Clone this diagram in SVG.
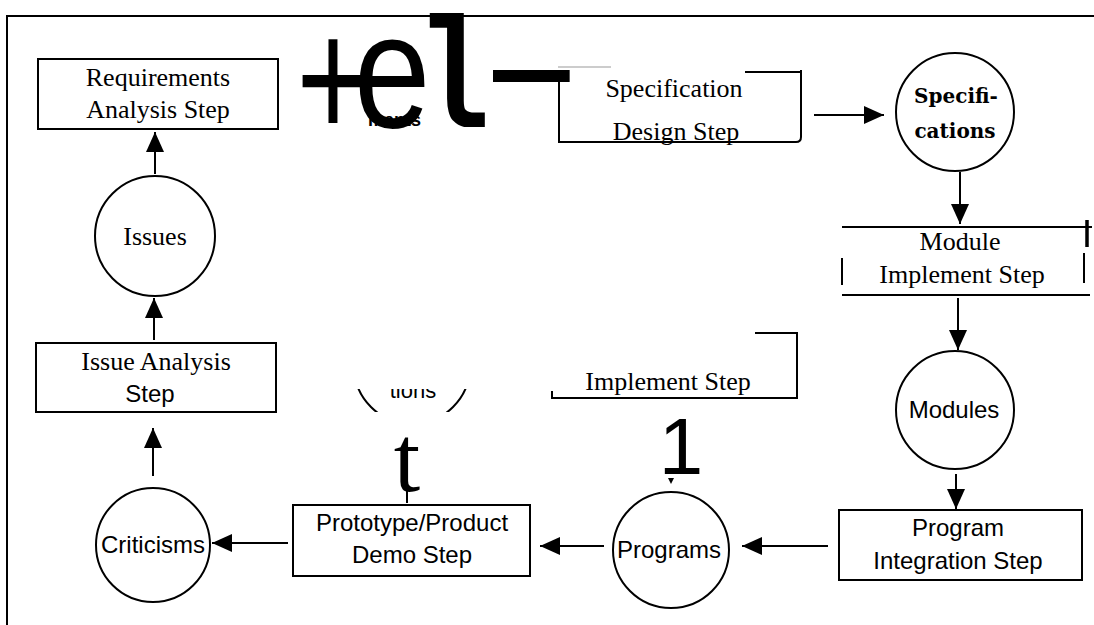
<svg xmlns="http://www.w3.org/2000/svg" width="1094" height="625" viewBox="0 0 1094 625">
<style>
.bx{fill:none;stroke:#000;stroke-width:2}
.ln{fill:none;stroke:#000;stroke-width:2}
.ci{fill:none;stroke:#000;stroke-width:2}
.se{font-family:"Liberation Serif","Times New Roman",serif;font-size:26px;fill:#000;text-anchor:middle}
.sa{font-family:"Liberation Sans",Arial,sans-serif;font-size:24px;fill:#000;text-anchor:middle}
.bd{font-family:"DejaVu Serif",serif;font-size:20px;font-weight:bold;fill:#000;text-anchor:middle}
.cn{fill:none;stroke:#000;stroke-width:2;marker-end:url(#ah)}
</style>
<defs>
<marker id="ah" viewBox="0 0 20 18" refX="20" refY="9" markerWidth="20" markerHeight="18" markerUnits="userSpaceOnUse" orient="auto"><path d="M0,0 L20,9 L0,18 z" fill="#000"/></marker>
<clipPath id="cpT"><rect x="340" y="389" width="140" height="23"/></clipPath>
<clipPath id="cpM"><rect x="340" y="112" width="120" height="20"/></clipPath>
</defs>
<rect width="1094" height="625" fill="#fff"/>
<path class="ln" d="M7,625 V16 H1094" stroke-width="2.5"/>

<g id="req"><rect class="bx" x="38" y="59" width="240" height="70"/><text class="se" x="158" y="86">Requirements</text><text class="se" x="158" y="118">Analysis Step</text></g>
<g id="issues"><circle class="ci" cx="155" cy="236" r="60"/><text class="se" x="155" y="245">Issues</text></g>
<g id="issueAnalysis"><rect class="bx" x="36" y="343" width="240" height="69"/><text class="se" x="156" y="370">Issue Analysis</text><text class="sa" x="150" y="402">Step</text></g>
<g id="criticisms"><circle class="ci" cx="153" cy="545" r="57"/><text class="sa" x="153" y="553">Criticisms</text></g>
<g id="demo"><rect class="bx" x="293" y="505" width="237" height="71"/><text class="sa" x="412" y="531">Prototype/Product</text><text class="sa" x="412" y="563">Demo Step</text></g>
<g id="programs"><circle class="ci" cx="671" cy="550" r="58"/><text class="sa" x="669" y="558">Programs</text></g>
<g id="integration"><rect class="bx" x="839" y="510" width="243" height="70"/><text class="sa" x="958" y="536">Program</text><text class="sa" x="958" y="569">Integration Step</text></g>
<g id="modules"><circle class="ci" cx="955" cy="410" r="59"/><text class="sa" x="954" y="418">Modules</text></g>
<g id="moduleImpl"><path class="ln" d="M842,227 H1092 M842,295 H1090 M842,258 V285 M1084,253 V283"/><path d="M1087,220 V247" stroke="#000" stroke-width="3.5"/><text class="se" x="960" y="250">Module</text><text class="se" x="962" y="283">Implement Step</text></g>
<g id="specs"><circle class="ci" cx="955" cy="112" r="59"/><text class="bd" x="956" y="103">Specifi-</text><text class="bd" x="955" y="138">cations</text></g>
<g id="specDesign"><path d="M558,67 H611" stroke="#999" stroke-width="1"/><path class="ln" d="M559,72 V142 H796 Q801,142 801,137 V70 M745,72 H800" stroke-width="2.5"/><text class="se" x="674" y="97">Specification</text><text class="se" x="676" y="140">Design Step</text></g>
<g id="implStep"><path class="ln" d="M755,333 H797 V398 H552 M552,391 V399"/><text class="se" x="668" y="390">Implement Step</text></g>
<g id="tions" clip-path="url(#cpT)"><circle class="ci" cx="412" cy="366" r="58"/><text font-family="Liberation Sans,Arial,sans-serif" font-size="22" text-anchor="middle" x="413" y="398">tions</text></g>

<g id="ocr" font-family="Liberation Sans,Arial,sans-serif" fill="#000">
<text clip-path="url(#cpM)" x="368" y="126" font-size="18" font-weight="bold">ments</text>
<g transform="translate(333,138) scale(1,1.36)"><text x="0" y="0" font-size="125" text-anchor="middle">+</text></g>
<g transform="translate(392,127) scale(1,1.18)"><text x="0" y="0" font-size="138" text-anchor="middle">e</text></g>
<g transform="translate(453,127) scale(1,1.3)"><text x="0" y="0" font-family="Liberation Mono,Courier New,monospace" font-weight="bold" font-size="122" text-anchor="middle">l</text></g>
<g transform="translate(493,122) scale(1,1.3)"><text x="0" y="0" font-size="138">–</text></g>
<text x="407" y="491" font-family="Liberation Serif,Times New Roman,serif" font-size="95" text-anchor="middle">t</text>
<text x="681" y="474" font-size="80" text-anchor="middle">1</text>
</g>

<g id="connectors">
<line class="cn" x1="155" y1="174" x2="155" y2="132"/>
<line class="cn" x1="154" y1="340" x2="154" y2="298"/>
<line class="cn" x1="153" y1="476" x2="153" y2="428"/>
<line class="cn" x1="288" y1="543" x2="212" y2="543"/>
<line class="cn" x1="604" y1="546" x2="540" y2="546"/>
<line class="cn" x1="828" y1="546" x2="742" y2="546"/>
<line class="cn" x1="956" y1="474" x2="956" y2="509"/>
<line class="cn" x1="958" y1="298" x2="958" y2="350"/>
<line class="cn" x1="960" y1="172" x2="960" y2="224"/>
<line class="cn" x1="814" y1="115" x2="884" y2="115"/>
<line class="ln" x1="407" y1="491" x2="407" y2="503"/>
<path d="M668,478 L674,478 L671,484 z" fill="#000"/>
</g>
</svg>
